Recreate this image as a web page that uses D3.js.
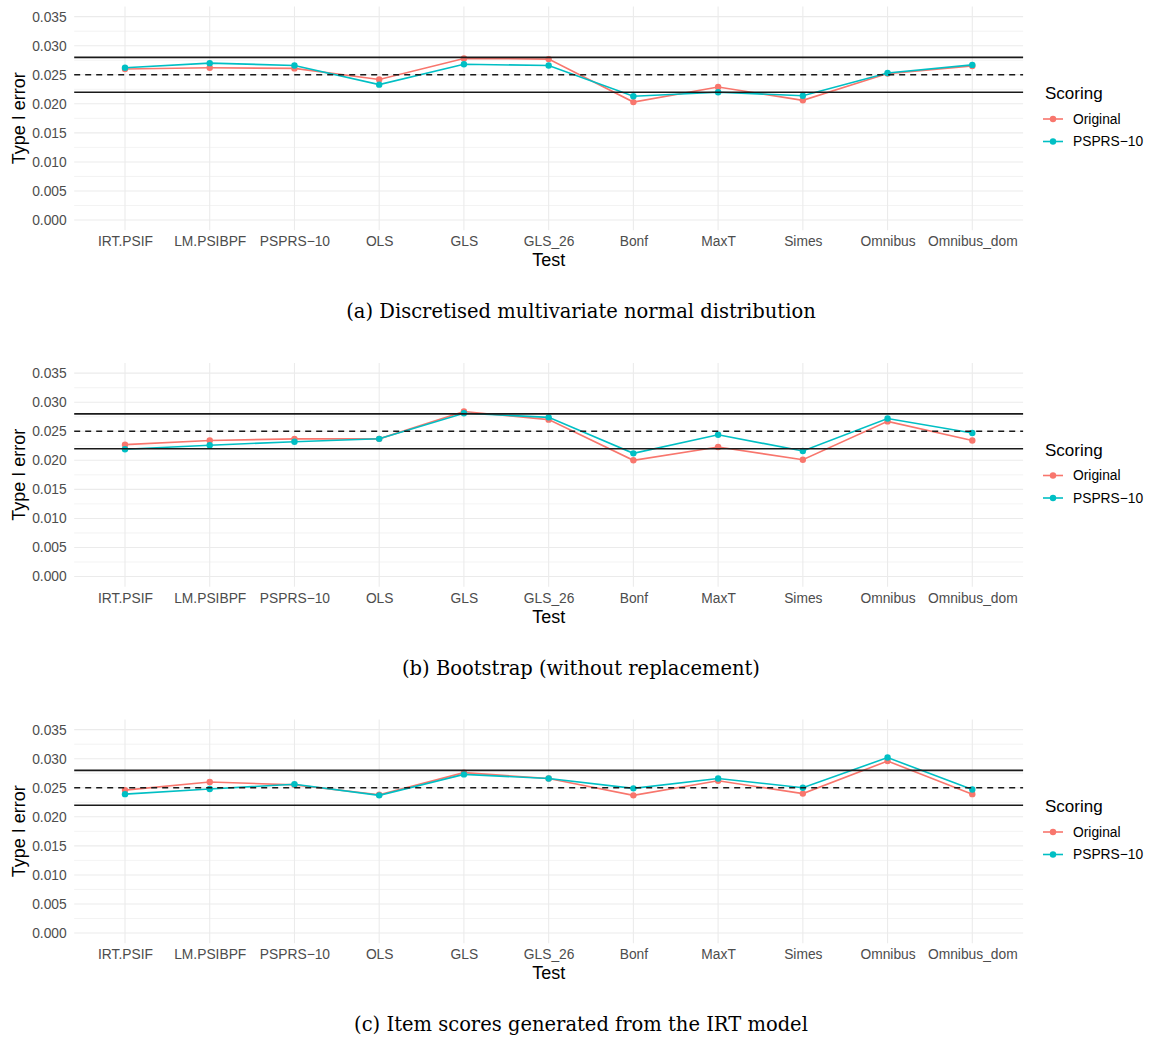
<!DOCTYPE html>
<html>
<head>
<meta charset="utf-8">
<script src="https://cdn.jsdelivr.net/npm/d3@7"></script>
<style>
  body { margin: 0; background: #fff; }
  svg { display: block; }
</style>
</head>
<body>
<div id="chart"></div>
<script>
// categories on the x axis
var tests = ["IRT.PSIF", "LM.PSIBPF", "PSPRS\u221210", "OLS", "GLS", "GLS_26",
             "Bonf", "MaxT", "Simes", "Omnibus", "Omnibus_dom"];
var scorings = ["Original", "PSPRS\u221210"];
var colors = ["#F8766D", "#00BFC4"];

// (a) discretised MVN
var origA  = [0.0260, 0.0262, 0.0261, 0.0242, 0.0278, 0.0277, 0.0203, 0.0229, 0.0206, 0.0252, 0.0265];
var psprsA = [0.0262, 0.0270, 0.0266, 0.0233, 0.0268, 0.0266, 0.0213, 0.0220, 0.0214, 0.0253, 0.0267];
// (b) bootstrap
var origB  = [0.0227, 0.0234, 0.0237, 0.0237, 0.0284, 0.0270, 0.0200, 0.0223, 0.0201, 0.0267, 0.0234];
var psprsB = [0.0219, 0.0226, 0.0232, 0.0237, 0.0281, 0.0274, 0.0212, 0.0244, 0.0216, 0.0272, 0.0247];
// (c) IRT model
var origC  = [0.0246, 0.0260, 0.0255, 0.0238, 0.0276, 0.0266, 0.0237, 0.0262, 0.0240, 0.0296, 0.0239];
var psprsC = [0.0239, 0.0248, 0.0256, 0.0237, 0.0273, 0.0266, 0.0249, 0.0266, 0.0250, 0.0302, 0.0247];

var captions = ["(a) Discretised multivariate normal distribution",
                "(b) Bootstrap (without replacement)",
                "(c) Item scores generated from the IRT model"];
var yTicks = [0, 0.005, 0.010, 0.015, 0.020, 0.025, 0.030, 0.035];
var refSolid = [0.022, 0.028];
var refDashed = [0.025];

var panels = [[origA, psprsA], [origB, psprsB], [origC, psprsC]];

var svgWidth = 1160, svgHeight = 1037;
var panelStep = 356.5;
// plot panel box (inside each panel group)
var pLeft = 74.2, pRight = 1023.1, pTop = 6.5, pBottom = 230.2;
var sansFont = "'Liberation Sans', Arial, sans-serif";

var svg = d3.select("#chart").append("svg")
  .attr("width", svgWidth)
  .attr("height", svgHeight)
  .style("font-family", sansFont);

var x = d3.scalePoint().domain(tests).range([125, 972.3]);
var y = d3.scaleLinear().domain([-0.00175, 0.03675]).range([pBottom, pTop]);

function hline(sel, cls, data) {
  return sel.selectAll("." + cls).data(data).enter().append("line")
    .attr("class", cls)
    .attr("x1", pLeft).attr("x2", pRight)
    .attr("y1", function(d) { return y(d); })
    .attr("y2", function(d) { return y(d); });
}

panels.forEach(function(series, p) {
  var g = svg.append("g").attr("transform", "translate(0," + (p * panelStep) + ")");

  // grid
  hline(g, "minor", d3.range(0.0025, 0.035, 0.005))
    .attr("stroke", "#EBEBEB").attr("stroke-width", 0.6);
  hline(g, "major", yTicks)
    .attr("stroke", "#EBEBEB").attr("stroke-width", 1.1);
  g.selectAll(".vgrid").data(tests).enter().append("line")
    .attr("class", "vgrid")
    .attr("x1", function(d) { return x(d); }).attr("x2", function(d) { return x(d); })
    .attr("y1", pTop).attr("y2", pBottom)
    .attr("stroke", "#EBEBEB").attr("stroke-width", 1.1);

  // axes (labels only, like theme_minimal)
  var yAxis = g.append("g").attr("transform", "translate(" + (pLeft - 2.5) + ",0)")
    .call(d3.axisLeft(y).tickValues(yTicks).tickFormat(d3.format(".3f")).tickSize(0).tickPadding(5));
  yAxis.select(".domain").remove();
  yAxis.selectAll("text").attr("fill", "#4D4D4D").style("font-size", "13.8px")
    .style("font-family", sansFont);

  var xAxis = g.append("g").attr("transform", "translate(0," + (pBottom + 2.5) + ")")
    .call(d3.axisBottom(x).tickSize(0).tickPadding(4));
  xAxis.select(".domain").remove();
  xAxis.selectAll("text").attr("fill", "#4D4D4D").style("font-size", "13.8px")
    .style("font-family", sansFont);

  // series
  var line = d3.line()
    .x(function(d, i) { return x(tests[i]); })
    .y(function(d) { return y(d); });
  series.forEach(function(vals, s) {
    g.append("path").datum(vals)
      .attr("d", line)
      .attr("fill", "none")
      .attr("stroke", colors[s])
      .attr("stroke-width", 1.6);
    g.selectAll(".pt" + s).data(vals).enter().append("circle")
      .attr("cx", function(d, i) { return x(tests[i]); })
      .attr("cy", function(d) { return y(d); })
      .attr("r", 3.2)
      .attr("fill", colors[s]);
  });

  // reference lines
  hline(g, "ref", refSolid)
    .attr("stroke", "#1a1a1a").attr("stroke-width", 1.6);
  hline(g, "refd", refDashed)
    .attr("stroke", "#1a1a1a").attr("stroke-width", 1.6)
    .attr("stroke-dasharray", "6,5");

  // axis titles
  g.append("text")
    .attr("transform", "translate(25," + ((pTop + pBottom) / 2) + ") rotate(-90)")
    .attr("text-anchor", "middle")
    .style("font-size", "18px")
    .text("Type I error");
  g.append("text")
    .attr("x", (pLeft + pRight) / 2).attr("y", 266)
    .attr("text-anchor", "middle")
    .style("font-size", "18px")
    .text("Test");

  // legend
  g.append("text").attr("x", 1045).attr("y", 99)
    .style("font-size", "17px").text("Scoring");
  scorings.forEach(function(name, s) {
    var ly = 119 + s * 22.5;
    g.append("line").attr("x1", 1043).attr("x2", 1063).attr("y1", ly).attr("y2", ly)
      .attr("stroke", colors[s]).attr("stroke-width", 1.6);
    g.append("circle").attr("cx", 1053).attr("cy", ly).attr("r", 3.2).attr("fill", colors[s]);
    g.append("text").attr("x", 1073).attr("y", ly + 4.8)
      .style("font-size", "13.8px").text(name);
  });

  // caption
  g.append("text")
    .attr("x", 581).attr("y", 318)
    .attr("text-anchor", "middle")
    .style("font-family", "'DejaVu Serif', 'Liberation Serif', serif")
    .style("font-size", "19.5px")
    .text(captions[p]);
});
</script>
</body>
</html>
